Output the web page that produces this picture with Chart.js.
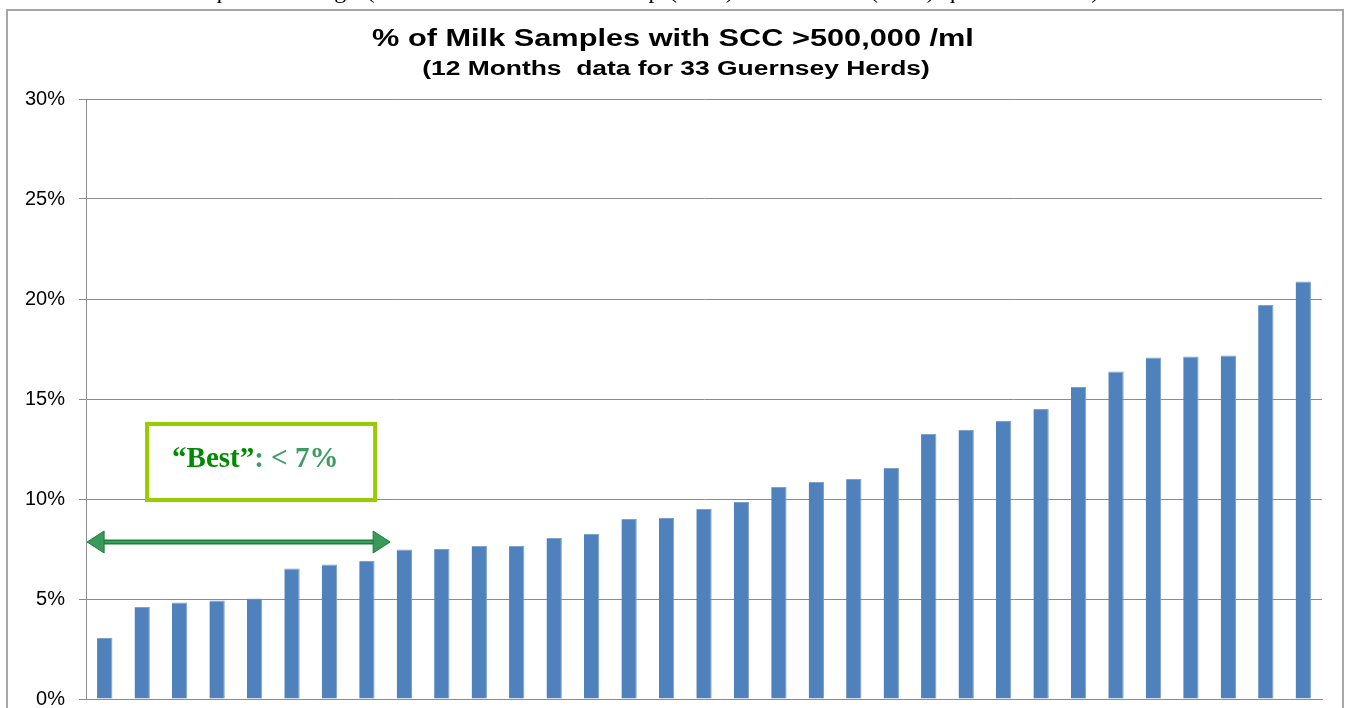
<!DOCTYPE html>
<html><head><meta charset="utf-8">
<script src="https://cdn.jsdelivr.net/npm/chart.js@4/dist/chart.umd.min.js"></script>
<style>
html,body{margin:0;padding:0;background:#fff;overflow:hidden;}
#wrap{position:relative;width:1345px;height:708px;overflow:hidden;background:#fff;}
#topline{position:absolute;z-index:2;left:160px;top:-23px;font:24px "Liberation Serif",serif;color:#000;white-space:nowrap;letter-spacing:1.2px;}
canvas{position:absolute;left:0;top:0;z-index:1;}
</style></head><body>
<div id="wrap"><div id="topline">interquartile range (difference between the top (75%) and bottom (25%) quartile herds). The</div><canvas id="c" width="1345" height="708"></canvas></div>
<script>
const herds = ["Herd 1","Herd 2","Herd 3","Herd 4","Herd 5","Herd 6","Herd 7","Herd 8","Herd 9","Herd 10","Herd 11","Herd 12","Herd 13","Herd 14","Herd 15","Herd 16","Herd 17","Herd 18","Herd 19","Herd 20","Herd 21","Herd 22","Herd 23","Herd 24","Herd 25","Herd 26","Herd 27","Herd 28","Herd 29","Herd 30","Herd 31","Herd 32","Herd 33"];
const pctAbove500k = [3.05,4.6,4.82,4.92,5.02,6.52,6.73,6.9,7.48,7.5,7.65,7.65,8.05,8.25,9.0,9.05,9.5,9.85,10.6,10.85,11.0,11.55,13.25,13.45,13.9,14.5,15.6,16.38,17.08,17.13,17.18,19.7,20.88];
const yTicks = [0,5,10,15,20,25,30];
const titleText = "% of Milk Samples with SCC >500,000 /ml";
const subtitleText = "(12 Months  data for 33 Guernsey Herds)";
const bestWord = "\u201CBest\u201D";
const bestRest = ": < 7%";

function stretchedText(ctx, text, cx, baseline, font, sx) {
  ctx.save();
  ctx.font = font;
  ctx.textAlign = 'center';
  ctx.translate(cx, baseline);
  ctx.scale(sx, 1);
  ctx.fillText(text, 0, 0);
  ctx.restore();
}

const deco = {
  id: 'deco',
  beforeDraw(chart) {
    const ctx = chart.ctx;
    ctx.save();
    ctx.fillStyle = '#fff';
    ctx.fillRect(0, 0, chart.width, chart.height);
    ctx.strokeStyle = '#a6a6a6';
    ctx.lineWidth = 2;
    ctx.strokeRect(7, 10, 1336, 720);
    ctx.restore();
  },
  afterDraw(chart) {
    const ctx = chart.ctx;
    const x = chart.scales.x, y = chart.scales.y;
    ctx.save();
    ctx.fillStyle = '#000';
    ctx.textBaseline = 'alphabetic';
    stretchedText(ctx, titleText, 673, 46, 'bold 24px "Liberation Sans", Arial, sans-serif', 1.28);
    stretchedText(ctx, subtitleText, 676, 75, 'bold 20px "Liberation Sans", Arial, sans-serif', 1.32);

    // "Best" box
    const bx1 = x.getPixelForValue(1.13), bx2 = x.getPixelForValue(7.22);
    const by1 = y.getPixelForValue(13.75), by2 = y.getPixelForValue(9.95);
    ctx.fillStyle = '#fff';
    ctx.fillRect(bx1, by1, bx2 - bx1, by2 - by1);
    ctx.strokeStyle = '#99cc00';
    ctx.lineWidth = 4;
    ctx.strokeRect(bx1, by1, bx2 - bx1, by2 - by1);
    ctx.textAlign = 'left';
    ctx.font = 'bold 29px "Liberation Serif", "Times New Roman", serif';
    const tx = bx1 + 25, ty = by1 + 43;
    ctx.fillStyle = '#008a00';
    ctx.fillText(bestWord, tx, ty);
    const w = ctx.measureText(bestWord).width;
    ctx.fillStyle = '#3c9a64';
    ctx.fillText(bestRest, tx + w, ty);

    // double arrow
    const ax1 = x.getPixelForValue(-0.47), ax2 = x.getPixelForValue(7.62);
    const ay = y.getPixelForValue(7.85);
    const hl = 17, hh = 11;
    ctx.strokeStyle = '#1f7d3c';
    ctx.lineWidth = 5;
    ctx.beginPath(); ctx.moveTo(ax1 + hl - 2, ay); ctx.lineTo(ax2 - hl + 2, ay); ctx.stroke();
    ctx.strokeStyle = '#3aa05c';
    ctx.lineWidth = 2;
    ctx.beginPath(); ctx.moveTo(ax1 + hl - 2, ay); ctx.lineTo(ax2 - hl + 2, ay); ctx.stroke();
    ctx.fillStyle = '#3a9a5c';
    ctx.strokeStyle = '#1f7d3c';
    ctx.lineWidth = 1;
    ctx.beginPath(); ctx.moveTo(ax1, ay); ctx.lineTo(ax1 + hl, ay - hh); ctx.lineTo(ax1 + hl, ay + hh); ctx.closePath(); ctx.fill(); ctx.stroke();
    ctx.beginPath(); ctx.moveTo(ax2, ay); ctx.lineTo(ax2 - hl, ay - hh); ctx.lineTo(ax2 - hl, ay + hh); ctx.closePath(); ctx.fill(); ctx.stroke();
    ctx.restore();
  }
};

new Chart(document.getElementById('c'), {
  type: 'bar',
  data: {
    labels: herds,
    datasets: [{
      label: '% of samples with SCC >500,000 /ml',
      data: pctAbove500k,
      backgroundColor: '#4f81bd',
      borderColor: '#7ea0cc',
      borderWidth: {top: 1, right: 1, left: 0, bottom: 0},
      borderSkipped: 'bottom',
      categoryPercentage: 1,
      barPercentage: 0.41
    }]
  },
  options: {
    responsive: false,
    devicePixelRatio: 1,
    animation: false,
    layout: { padding: { top: 99, right: 23, bottom: 9, left: 0 } },
    plugins: { legend: { display: false }, tooltip: { enabled: false }, title: { display: false } },
    scales: {
      x: {
        ticks: { display: false },
        grid: { display: false },
        border: { display: true, color: '#8c8c8c', width: 1 },
        afterFit(s) { s.height = 0; s.paddingTop = 0; s.paddingBottom = 0; }
      },
      y: {
        min: 0, max: 30,
        afterBuildTicks(s) { s.ticks = yTicks.map(v => ({ value: v })); },
        ticks: {
          callback: v => v + '%',
          color: '#000',
          padding: 14,
          font: { family: '"Liberation Sans", Arial, sans-serif', size: 20 }
        },
        grid: { color: '#8c8c8c', lineWidth: 1, tickLength: 7, drawTicks: true },
        border: { display: true, color: '#8c8c8c', width: 1 },
        afterFit(s) { s.width = 86; s.paddingTop = 0; s.paddingBottom = 0; }
      }
    }
  },
  plugins: [deco]
});
</script>
</body></html>
